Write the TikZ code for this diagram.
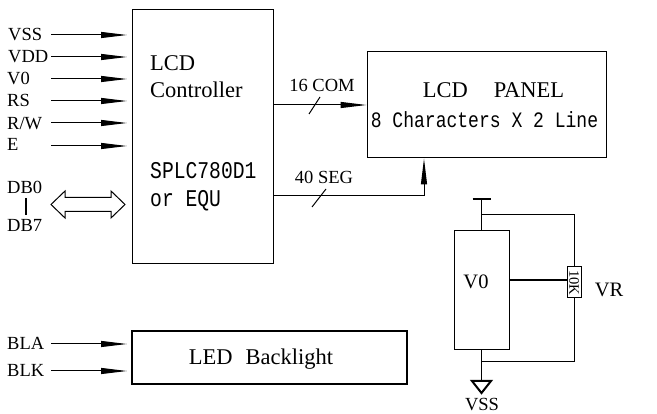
\documentclass[tikz,border=0pt]{standalone}
\usepackage{fontspec}
\setmainfont{Liberation Serif}
\newfontfamily\thinmono[FakeStretch=0.82]{Liberation Mono}
\usetikzlibrary{arrows.meta}
\tikzset{box/.style={draw,line width=1pt,inner sep=0pt},
	thickbox/.style={draw,line width=2.5pt,inner sep=0pt},
	lbl/.style={inner sep=0pt,font=\fontsize{18.5}{20}\selectfont},
	name text/.style={inner sep=0pt,font=\fontsize{22.5}{24}\selectfont},
	mono text/.style={inner sep=0pt,font=\thinmono\fontsize{24}{26}\selectfont},
	big text/.style={inner sep=0pt,font=\fontsize{20.5}{22}\selectfont},
	sig/.style={line width=1pt,-{Triangle[length=26pt,width=6pt]}},
	wire/.style={line width=1pt}}

\begin{document}
\begin{tikzpicture}[x=1pt,y=-1pt]
\useasboundingbox (0,0) rectangle (657,414);
% main blocks
\node [box,minimum width=141pt,minimum height=254pt] (ctrl) at (202.5,137) {};
\node [box,minimum width=239pt,minimum height=106pt] (panel) at (486.5,105) {};
\node [thickbox,minimum width=275pt,minimum height=53pt] (backlight) at (269.5,357.5) {};
\node [box,minimum width=55pt,minimum height=119pt] (vzero) at (481.5,290.5) {};
\node [box,minimum width=31pt,minimum height=14pt,rotate=-90,font=\fontsize{14.5}{15}\selectfont] (vr) at (574,282.5) {10K};
% texts in the blocks
\node [name text,anchor=base west] (lcd) at (150,71) {LCD};
\node [name text,anchor=base west] (controller) at (150,98) {Controller};
\node [mono text,anchor=base west] (chip) at (150,179) {SPLC780D1};
\node [mono text,anchor=base west] (equ) at (150,207) {or EQU};
\node [name text,anchor=base] (paneltext) at (493.5,98) {LCD\hspace{26pt}PANEL};
\node [inner sep=0pt,font=\thinmono\fontsize{22}{24}\selectfont,anchor=base] (chars) at (484.5,127.5) {8 Characters X 2 Line};
\node [name text,anchor=base] (ledtext) at (261,365) {LED\hspace{13pt}Backlight};
\node [big text,anchor=base] (vztext) at (476,289) {V0};
\node [big text,anchor=base] (vrtext) at (609,297) {VR};
\node [lbl,anchor=base] (vsstext) at (482,411) {VSS};
% pin names
\node [lbl,anchor=base west] (vss) at (8,41) {VSS};
\node [lbl,anchor=base west] (vdd) at (8,63) {VDD};
\node [lbl,anchor=base west] (vo) at (7,85) {V0};
\node [lbl,anchor=base west] (rs) at (7,107) {RS};
\node [lbl,anchor=base west] (rw) at (7,130) {R/W};
\node [lbl,anchor=base west] (e) at (7,151) {E};
\node [lbl,anchor=base west] (dbz) at (7,194) {DB0};
\node [lbl,anchor=base west] (dbs) at (7,232) {DB7};
\node [lbl,anchor=base west] (bla) at (7,350) {BLA};
\node [lbl,anchor=base west] (blk) at (7,377) {BLK};
\node [lbl,anchor=base] (com) at (322,92) {16 COM};
\node [lbl,anchor=base] (seg) at (324,184) {40 SEG};
% pin arrows
\coordinate (pinl) at (51,0);
\coordinate (pinr) at (127,0);
\draw [sig] (pinl |- 0,35) -- (pinr |- 0,35);
\draw [sig] (pinl |- 0,57) -- (pinr |- 0,57);
\draw [sig] (pinl |- 0,79) -- (pinr |- 0,79);
\draw [sig] (pinl |- 0,101) -- (pinr |- 0,101);
\draw [sig] (pinl |- 0,123) -- (pinr |- 0,123);
\draw [sig] (pinl |- 0,146) -- (pinr |- 0,146);
\draw [sig] (pinl |- 0,344) -- (pinr |- 0,344);
\draw [sig] (pinl |- 0,371) -- (pinr |- 0,371);
% data bus
\coordinate (dbtop) at (26,198);
\coordinate (dbbot) at (26,215);
\coordinate (bus) at (51,204.5);
\draw [line width=2pt] (dbtop) -- (dbbot);
\draw [wire] (bus) -- ++(14,-13.5) -- ++(0,6.5) -- ++(46,0) -- ++(0,-6.5) -- ++(14,13.5)
	-- ++(-14,13.5) -- ++(0,-6.5) -- ++(-46,0) -- ++(0,6.5) -- cycle;
% outputs to the panel
\coordinate (comy) at (314.5,105);
\coordinate (segx) at (424,196);
\draw [sig] (ctrl.east |- comy) -- (panel.west |- comy);
\draw [wire] (ctrl.east |- segx) -- (segx);
\draw [sig] (segx) -- (segx |- panel.south);
\draw [wire] (309,114) -- (320,97);
\draw [wire] (312,207) -- (326,189);
% V0 adjust
\coordinate (vtop) at (481.5,199);
\coordinate (vtopr) at (481.5,215);
\coordinate (vbotr) at (481.5,362);
\coordinate (gndtop) at (481.5,381);
\draw [wire] (vtop) -- (vzero.north);
\draw [line width=2pt] (vtop) ++(-9,0) -- ++(18,0);
\draw [wire] (vtopr) -| (vr.west);
\draw [wire] (vr.east) |- (vbotr);
\draw [wire] (vzero.south) -- (gndtop);
\draw [line width=2pt] (gndtop) ++(-9.5,0) -- ++(19,0) -- ++(-9.5,12) -- cycle;
\draw [line width=2.5pt] (vzero.east |- 0,280) -- (vr.south |- 0,280);
\end{tikzpicture}
\end{document}
